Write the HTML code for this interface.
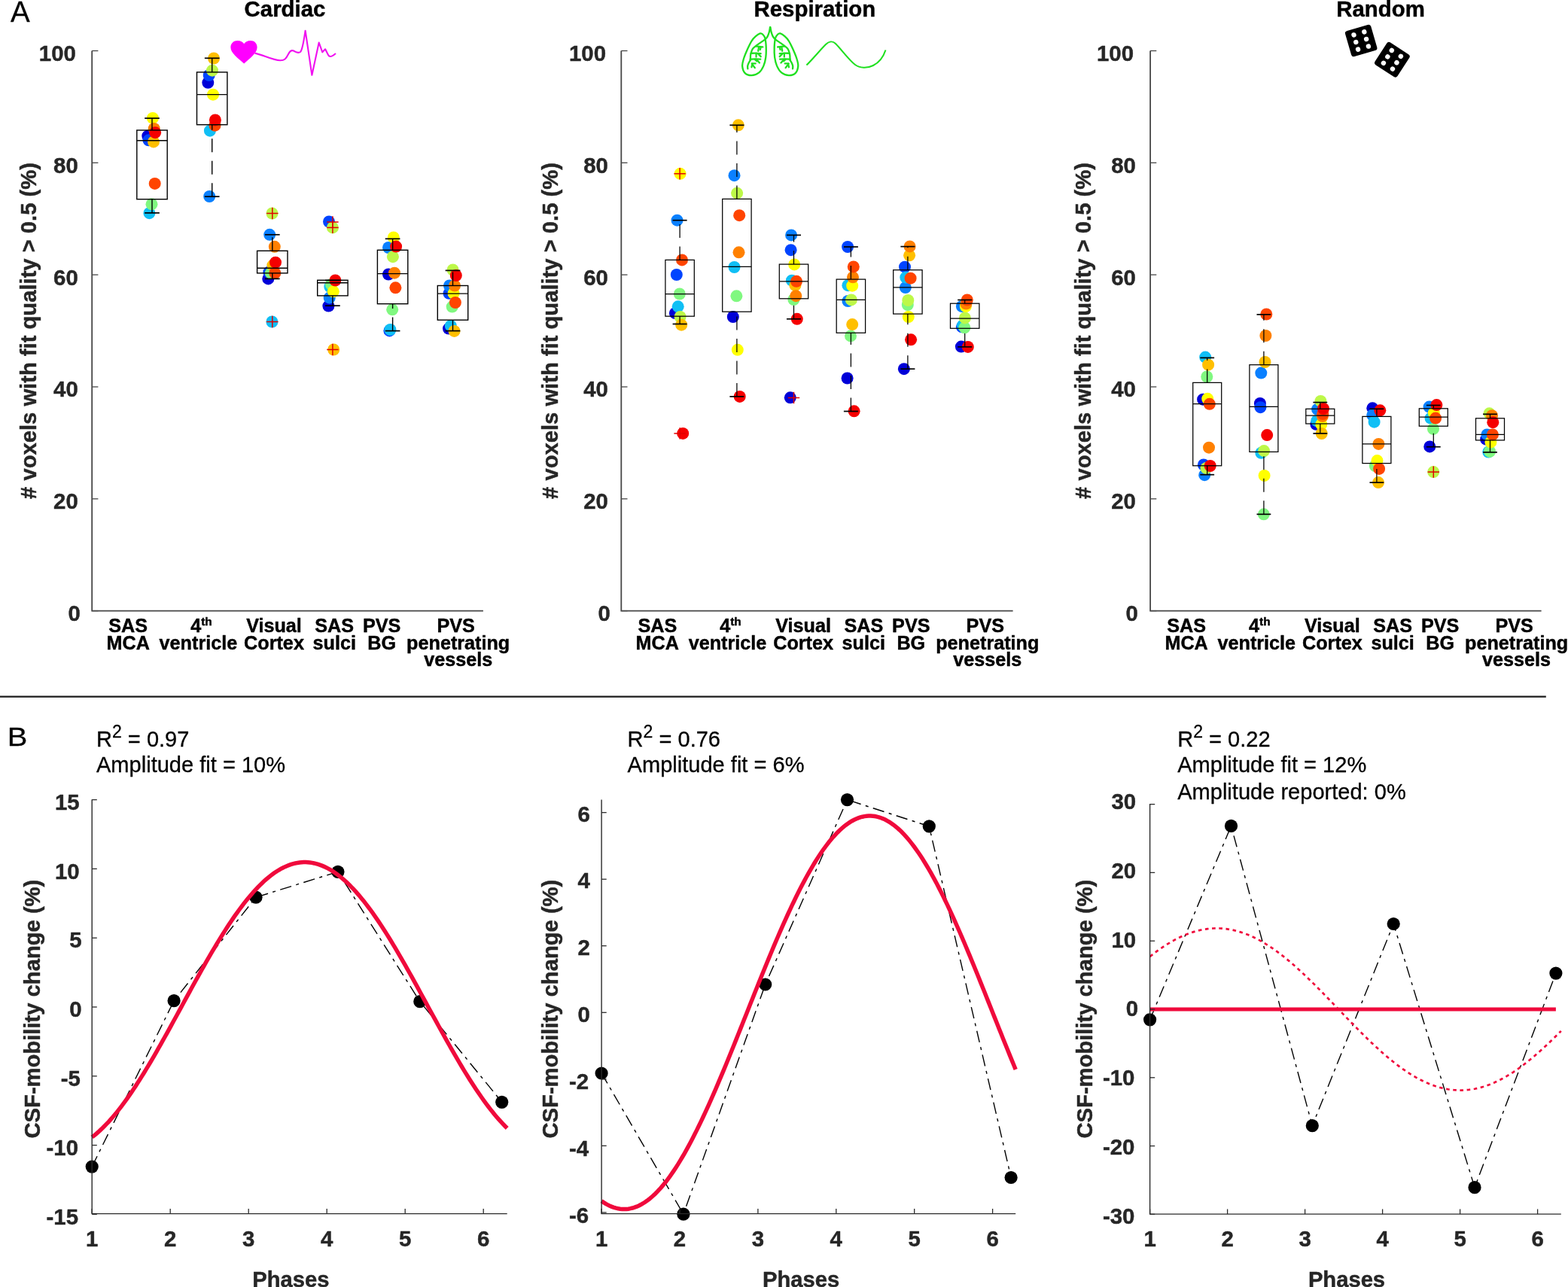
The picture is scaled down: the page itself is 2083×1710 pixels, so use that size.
<!DOCTYPE html>
<html><head><meta charset="utf-8"><title>Figure</title>
<style>html,body{margin:0;padding:0;background:#fff;} svg{display:block;}</style>
</head><body>
<svg width="2083" height="1710" viewBox="0 0 2083 1710">
<rect width="2083" height="1710" fill="#fff"/>
<text stroke="#000" x="13.9" y="28.8" font-family="Liberation Sans, Arial, sans-serif" stroke-width="0.3" stroke-linejoin="round" font-size="38.5" fill="#000">A</text>
<text stroke="#000" transform="translate(9.8,990.7) scale(1.12,1)" font-family="Liberation Sans, Arial, sans-serif" stroke-width="0.3" stroke-linejoin="round" font-size="35.6" fill="#000">B</text>
<circle cx="196.3" cy="180.7" r="8.0" fill="#0000d8"/>
<circle cx="197.4" cy="186.3" r="8.0" fill="#0044ff"/>
<circle cx="198.4" cy="283.2" r="8.0" fill="#10bff5"/>
<circle cx="201.5" cy="271.3" r="8.0" fill="#80f880"/>
<circle cx="202.9" cy="156.9" r="8.0" fill="#ffff00"/>
<circle cx="204.0" cy="188.4" r="8.0" fill="#ffbf00"/>
<circle cx="204.7" cy="170.9" r="8.0" fill="#ff8000"/>
<circle cx="205.7" cy="243.9" r="8.0" fill="#ff4400"/>
<circle cx="206.1" cy="176.2" r="8.0" fill="#f50000"/>
<circle cx="276.3" cy="109.8" r="8.0" fill="#0000d8"/>
<circle cx="277.7" cy="100.0" r="8.0" fill="#0044ff"/>
<circle cx="278.2" cy="261.0" r="8.0" fill="#0a80ff"/>
<circle cx="278.9" cy="173.7" r="8.0" fill="#10bff5"/>
<circle cx="282.0" cy="93.7" r="8.0" fill="#bdf848"/>
<circle cx="283.0" cy="125.7" r="8.0" fill="#ffff00"/>
<circle cx="284.0" cy="77.5" r="8.0" fill="#ffbf00"/>
<circle cx="285.5" cy="166.7" r="8.0" fill="#ff4400"/>
<circle cx="285.9" cy="159.4" r="8.0" fill="#f50000"/>
<circle cx="356.3" cy="370.4" r="8.0" fill="#0000d8"/>
<circle cx="357.3" cy="361.6" r="8.0" fill="#0044ff"/>
<circle cx="358.2" cy="311.8" r="8.0" fill="#0a80ff"/>
<circle cx="361.4" cy="427.5" r="8.0" fill="#10bff5"/>
<circle cx="359.9" cy="362.9" r="8.0" fill="#80f880"/>
<circle cx="361.5" cy="283.5" r="8.0" fill="#bdf848"/>
<circle cx="362.4" cy="352.6" r="8.0" fill="#ffbf00"/>
<circle cx="364.8" cy="327.8" r="8.0" fill="#ff8000"/>
<circle cx="365.3" cy="362.9" r="8.0" fill="#ff4400"/>
<circle cx="366.0" cy="348.7" r="8.0" fill="#f50000"/>
<circle cx="436.4" cy="406.6" r="8.0" fill="#0000d8"/>
<circle cx="437.0" cy="294.5" r="8.0" fill="#0044ff"/>
<circle cx="437.7" cy="395.7" r="8.0" fill="#0a80ff"/>
<circle cx="438.3" cy="381.0" r="8.0" fill="#10bff5"/>
<circle cx="440.0" cy="378.0" r="8.0" fill="#80f880"/>
<circle cx="441.9" cy="302.4" r="8.0" fill="#bdf848"/>
<circle cx="442.8" cy="387.3" r="8.0" fill="#ffff00"/>
<circle cx="443.2" cy="464.5" r="8.0" fill="#ffbf00"/>
<circle cx="445.4" cy="372.5" r="8.0" fill="#f50000"/>
<circle cx="516.0" cy="364.5" r="8.0" fill="#0000d8"/>
<circle cx="517.4" cy="439.4" r="8.0" fill="#0044ff"/>
<circle cx="516.0" cy="329.0" r="8.0" fill="#0a80ff"/>
<circle cx="518.4" cy="438.0" r="8.0" fill="#10bff5"/>
<circle cx="521.2" cy="411.3" r="8.0" fill="#80f880"/>
<circle cx="521.9" cy="341.2" r="8.0" fill="#bdf848"/>
<circle cx="522.8" cy="315.4" r="8.0" fill="#ffff00"/>
<circle cx="524.0" cy="362.7" r="8.0" fill="#ff8000"/>
<circle cx="525.4" cy="382.3" r="8.0" fill="#ff4400"/>
<circle cx="526.1" cy="327.6" r="8.0" fill="#f50000"/>
<circle cx="596.0" cy="436.6" r="8.0" fill="#0000d8"/>
<circle cx="596.5" cy="389.8" r="8.0" fill="#0044ff"/>
<circle cx="597.0" cy="379.5" r="8.0" fill="#0a80ff"/>
<circle cx="598.8" cy="432.9" r="8.0" fill="#10bff5"/>
<circle cx="600.7" cy="407.6" r="8.0" fill="#80f880"/>
<circle cx="601.6" cy="358.5" r="8.0" fill="#bdf848"/>
<circle cx="602.6" cy="389.8" r="8.0" fill="#ffff00"/>
<circle cx="603.5" cy="439.9" r="8.0" fill="#ffbf00"/>
<circle cx="604.0" cy="379.5" r="8.0" fill="#ff8000"/>
<circle cx="604.9" cy="402.0" r="8.0" fill="#ff4400"/>
<circle cx="605.8" cy="366.0" r="8.0" fill="#f50000"/>
<g stroke="#000" stroke-width="1.4" fill="none">
<rect x="181.8" y="173.0" width="40.4" height="91.7"/>
<line x1="181.8" y1="186.8" x2="222.2" y2="186.8"/>
<line x1="202.0" y1="173.0" x2="202.0" y2="157.1" stroke-dasharray="18 11.5"/>
<line x1="202.0" y1="282.9" x2="202.0" y2="264.7" stroke-dasharray="18 11.5"/>
<line x1="192.15" y1="157.1" x2="211.85" y2="157.1" stroke-width="1.7"/>
<line x1="192.15" y1="282.9" x2="211.85" y2="282.9" stroke-width="1.7"/>
</g>
<g stroke="#000" stroke-width="1.4" fill="none">
<rect x="261.5" y="95.9" width="40.4" height="69.8"/>
<line x1="261.5" y1="125.6" x2="301.9" y2="125.6"/>
<line x1="281.7" y1="95.9" x2="281.7" y2="77.3" stroke-dasharray="18 11.5"/>
<line x1="281.7" y1="261.2" x2="281.7" y2="165.7" stroke-dasharray="18 11.5"/>
<line x1="271.84999999999997" y1="77.3" x2="291.55" y2="77.3" stroke-width="1.7"/>
<line x1="271.84999999999997" y1="261.2" x2="291.55" y2="261.2" stroke-width="1.7"/>
</g>
<g stroke="#000" stroke-width="1.4" fill="none">
<rect x="341.6" y="333.3" width="40.4" height="29.6"/>
<line x1="341.6" y1="356.2" x2="382.0" y2="356.2"/>
<line x1="361.8" y1="333.3" x2="361.8" y2="311.8" stroke-dasharray="18 11.5"/>
<line x1="361.8" y1="370.4" x2="361.8" y2="362.9" stroke-dasharray="18 11.5"/>
<line x1="351.95" y1="311.8" x2="371.65000000000003" y2="311.8" stroke-width="1.7"/>
<line x1="351.95" y1="370.4" x2="371.65000000000003" y2="370.4" stroke-width="1.7"/>
</g>
<g stroke="#e00000" stroke-width="1.5"><line x1="354.1" y1="283.5" x2="369.5" y2="283.5"/><line x1="361.8" y1="275.8" x2="361.8" y2="291.2"/></g>
<g stroke="#e00000" stroke-width="1.5"><line x1="354.1" y1="427.5" x2="369.5" y2="427.5"/><line x1="361.8" y1="419.8" x2="361.8" y2="435.2"/></g>
<g stroke="#000" stroke-width="1.4" fill="none">
<rect x="421.7" y="372.3" width="40.4" height="20.6"/>
<line x1="421.7" y1="375.8" x2="462.1" y2="375.8"/>
<line x1="441.9" y1="372.3" x2="441.9" y2="372.5" stroke-dasharray="18 11.5"/>
<line x1="441.9" y1="406.2" x2="441.9" y2="392.9" stroke-dasharray="18 11.5"/>
<line x1="432.04999999999995" y1="372.5" x2="451.75" y2="372.5" stroke-width="1.7"/>
<line x1="432.04999999999995" y1="406.2" x2="451.75" y2="406.2" stroke-width="1.7"/>
</g>
<g stroke="#e00000" stroke-width="1.5"><line x1="434.2" y1="295.0" x2="449.59999999999997" y2="295.0"/><line x1="441.9" y1="287.3" x2="441.9" y2="302.7"/></g>
<g stroke="#e00000" stroke-width="1.5"><line x1="434.2" y1="302.4" x2="449.59999999999997" y2="302.4"/><line x1="441.9" y1="294.7" x2="441.9" y2="310.09999999999997"/></g>
<g stroke="#e00000" stroke-width="1.5"><line x1="434.2" y1="464.5" x2="449.59999999999997" y2="464.5"/><line x1="441.9" y1="456.8" x2="441.9" y2="472.2"/></g>
<g stroke="#000" stroke-width="1.4" fill="none">
<rect x="501.4" y="332.3" width="40.4" height="71.4"/>
<line x1="501.4" y1="363.6" x2="541.8" y2="363.6"/>
<line x1="521.6" y1="332.3" x2="521.6" y2="317.3" stroke-dasharray="18 11.5"/>
<line x1="521.6" y1="439.6" x2="521.6" y2="403.7" stroke-dasharray="18 11.5"/>
<line x1="511.75" y1="317.3" x2="531.45" y2="317.3" stroke-width="1.7"/>
<line x1="511.75" y1="439.6" x2="531.45" y2="439.6" stroke-width="1.7"/>
</g>
<g stroke="#000" stroke-width="1.4" fill="none">
<rect x="581.3" y="379.5" width="40.4" height="45.7"/>
<line x1="581.3" y1="390.1" x2="621.7" y2="390.1"/>
<line x1="601.5" y1="379.5" x2="601.5" y2="359.4" stroke-dasharray="18 11.5"/>
<line x1="601.5" y1="439.6" x2="601.5" y2="425.2" stroke-dasharray="18 11.5"/>
<line x1="591.65" y1="359.4" x2="611.35" y2="359.4" stroke-width="1.7"/>
<line x1="591.65" y1="439.6" x2="611.35" y2="439.6" stroke-width="1.7"/>
</g>
<g stroke="#474747" stroke-width="1.8" fill="none"><path d="M122.2,67.5 V811.6 H641.9000000000001"/></g>
<line x1="122.2" y1="811.6" x2="130.4" y2="811.6" stroke="#474747" stroke-width="1.3"/>
<text stroke="#262626" x="106.8" y="825.0" font-family="Liberation Sans, Arial, sans-serif" font-weight="bold" stroke-width="0.45" stroke-linejoin="round" font-size="29.4" fill="#262626" text-anchor="end">0</text>
<line x1="122.2" y1="662.8" x2="130.4" y2="662.8" stroke="#474747" stroke-width="1.3"/>
<text stroke="#262626" x="103.8" y="676.2" font-family="Liberation Sans, Arial, sans-serif" font-weight="bold" stroke-width="0.45" stroke-linejoin="round" font-size="29.4" fill="#262626" text-anchor="end">20</text>
<line x1="122.2" y1="514.0" x2="130.4" y2="514.0" stroke="#474747" stroke-width="1.3"/>
<text stroke="#262626" x="103.8" y="527.4" font-family="Liberation Sans, Arial, sans-serif" font-weight="bold" stroke-width="0.45" stroke-linejoin="round" font-size="29.4" fill="#262626" text-anchor="end">40</text>
<line x1="122.2" y1="365.1" x2="130.4" y2="365.1" stroke="#474747" stroke-width="1.3"/>
<text stroke="#262626" x="103.8" y="378.5" font-family="Liberation Sans, Arial, sans-serif" font-weight="bold" stroke-width="0.45" stroke-linejoin="round" font-size="29.4" fill="#262626" text-anchor="end">60</text>
<line x1="122.2" y1="216.3" x2="130.4" y2="216.3" stroke="#474747" stroke-width="1.3"/>
<text stroke="#262626" x="103.8" y="229.7" font-family="Liberation Sans, Arial, sans-serif" font-weight="bold" stroke-width="0.45" stroke-linejoin="round" font-size="29.4" fill="#262626" text-anchor="end">80</text>
<line x1="122.2" y1="67.5" x2="130.4" y2="67.5" stroke="#474747" stroke-width="1.3"/>
<text stroke="#262626" x="100.9" y="80.9" font-family="Liberation Sans, Arial, sans-serif" font-weight="bold" stroke-width="0.45" stroke-linejoin="round" font-size="29.4" fill="#262626" text-anchor="end">100</text>
<text stroke="#262626" transform="translate(47.8,439.5) rotate(-90)" font-family="Liberation Sans, Arial, sans-serif" font-weight="bold" stroke-width="0.45" stroke-linejoin="round" font-size="29.2" fill="#262626" text-anchor="middle"># voxels with fit quality &gt; 0.5 (%)</text>
<text stroke="#000" x="378.5" y="22.2" font-family="Liberation Sans, Arial, sans-serif" font-weight="bold" stroke-width="0.45" stroke-linejoin="round" font-size="29.4" fill="#000" text-anchor="middle">Cardiac</text>
<text stroke="#000" x="170.2" y="839.7" font-family="Liberation Sans, Arial, sans-serif" font-weight="bold" stroke-width="0.45" stroke-linejoin="round" font-size="25.2" fill="#000" text-anchor="middle">SAS</text>
<text stroke="#000" x="170.2" y="862.5" font-family="Liberation Sans, Arial, sans-serif" font-weight="bold" stroke-width="0.45" stroke-linejoin="round" font-size="25.2" fill="#000" text-anchor="middle">MCA</text>
<text stroke="#000" x="267.4" y="839.7" font-family="Liberation Sans, Arial, sans-serif" font-weight="bold" stroke-width="0.45" stroke-linejoin="round" font-size="25.2" fill="#000" text-anchor="middle">4<tspan font-size="15.4" dy="-8.8">th</tspan></text>
<text stroke="#000" x="263.4" y="862.5" font-family="Liberation Sans, Arial, sans-serif" font-weight="bold" stroke-width="0.45" stroke-linejoin="round" font-size="25.2" fill="#000" text-anchor="middle">ventricle</text>
<text stroke="#000" x="364.0" y="839.7" font-family="Liberation Sans, Arial, sans-serif" font-weight="bold" stroke-width="0.45" stroke-linejoin="round" font-size="25.2" fill="#000" text-anchor="middle">Visual</text>
<text stroke="#000" x="364.0" y="862.5" font-family="Liberation Sans, Arial, sans-serif" font-weight="bold" stroke-width="0.45" stroke-linejoin="round" font-size="25.2" fill="#000" text-anchor="middle">Cortex</text>
<text stroke="#000" x="444.2" y="839.7" font-family="Liberation Sans, Arial, sans-serif" font-weight="bold" stroke-width="0.45" stroke-linejoin="round" font-size="25.2" fill="#000" text-anchor="middle">SAS</text>
<text stroke="#000" x="444.2" y="862.5" font-family="Liberation Sans, Arial, sans-serif" font-weight="bold" stroke-width="0.45" stroke-linejoin="round" font-size="25.2" fill="#000" text-anchor="middle">sulci</text>
<text stroke="#000" x="507.2" y="839.7" font-family="Liberation Sans, Arial, sans-serif" font-weight="bold" stroke-width="0.45" stroke-linejoin="round" font-size="25.2" fill="#000" text-anchor="middle">PVS</text>
<text stroke="#000" x="507.2" y="862.5" font-family="Liberation Sans, Arial, sans-serif" font-weight="bold" stroke-width="0.45" stroke-linejoin="round" font-size="25.2" fill="#000" text-anchor="middle">BG</text>
<text stroke="#000" x="605.7" y="839.7" font-family="Liberation Sans, Arial, sans-serif" font-weight="bold" stroke-width="0.45" stroke-linejoin="round" font-size="25.2" fill="#000" text-anchor="middle">PVS</text>
<text stroke="#000" x="608.7" y="862.5" font-family="Liberation Sans, Arial, sans-serif" font-weight="bold" stroke-width="0.45" stroke-linejoin="round" font-size="25.2" fill="#000" text-anchor="middle">penetrating</text>
<text stroke="#000" x="608.7" y="884.8" font-family="Liberation Sans, Arial, sans-serif" font-weight="bold" stroke-width="0.45" stroke-linejoin="round" font-size="25.2" fill="#000" text-anchor="middle">vessels</text>
<circle cx="896.9" cy="416.1" r="8.0" fill="#0000d8"/>
<circle cx="898.8" cy="365.0" r="8.0" fill="#0044ff"/>
<circle cx="899.5" cy="292.7" r="8.0" fill="#0a80ff"/>
<circle cx="900.7" cy="407.3" r="8.0" fill="#10bff5"/>
<circle cx="902.8" cy="390.5" r="8.0" fill="#80f880"/>
<circle cx="903.6" cy="421.0" r="8.0" fill="#bdf848"/>
<circle cx="903.6" cy="230.8" r="8.0" fill="#ffff00"/>
<circle cx="905.2" cy="431.7" r="8.0" fill="#ffbf00"/>
<circle cx="906.0" cy="345.4" r="8.0" fill="#ff4400"/>
<circle cx="907.2" cy="575.9" r="8.0" fill="#f50000"/>
<circle cx="973.8" cy="421.0" r="8.0" fill="#0000d8"/>
<circle cx="975.5" cy="233.2" r="8.0" fill="#0a80ff"/>
<circle cx="975.5" cy="355.0" r="8.0" fill="#10bff5"/>
<circle cx="978.4" cy="393.3" r="8.0" fill="#80f880"/>
<circle cx="979.1" cy="256.7" r="8.0" fill="#bdf848"/>
<circle cx="979.8" cy="464.8" r="8.0" fill="#ffff00"/>
<circle cx="980.8" cy="166.3" r="8.0" fill="#ffbf00"/>
<circle cx="981.5" cy="335.3" r="8.0" fill="#ff8000"/>
<circle cx="982.2" cy="286.2" r="8.0" fill="#ff4400"/>
<circle cx="982.7" cy="526.9" r="8.0" fill="#f50000"/>
<circle cx="1049.8" cy="528.3" r="8.0" fill="#0000d8"/>
<circle cx="1050.6" cy="332.2" r="8.0" fill="#0044ff"/>
<circle cx="1051.1" cy="312.4" r="8.0" fill="#0a80ff"/>
<circle cx="1051.9" cy="372.7" r="8.0" fill="#10bff5"/>
<circle cx="1054.4" cy="398.0" r="8.0" fill="#80f880"/>
<circle cx="1055.2" cy="351.4" r="8.0" fill="#ffff00"/>
<circle cx="1056.4" cy="379.2" r="8.0" fill="#ffbf00"/>
<circle cx="1057.3" cy="393.2" r="8.0" fill="#ff8000"/>
<circle cx="1058.0" cy="373.8" r="8.0" fill="#ff4400"/>
<circle cx="1058.8" cy="423.8" r="8.0" fill="#f50000"/>
<circle cx="1125.6" cy="502.5" r="8.0" fill="#0000d8"/>
<circle cx="1126.1" cy="328.0" r="8.0" fill="#0044ff"/>
<circle cx="1126.4" cy="400.0" r="8.0" fill="#0a80ff"/>
<circle cx="1126.4" cy="379.2" r="8.0" fill="#10bff5"/>
<circle cx="1130.0" cy="446.4" r="8.0" fill="#80f880"/>
<circle cx="1130.9" cy="398.4" r="8.0" fill="#bdf848"/>
<circle cx="1132.2" cy="379.7" r="8.0" fill="#ffff00"/>
<circle cx="1132.2" cy="431.1" r="8.0" fill="#ffbf00"/>
<circle cx="1133.0" cy="368.3" r="8.0" fill="#ff8000"/>
<circle cx="1133.8" cy="354.4" r="8.0" fill="#ff4400"/>
<circle cx="1134.6" cy="546.3" r="8.0" fill="#f50000"/>
<circle cx="1200.9" cy="490.2" r="8.0" fill="#0000d8"/>
<circle cx="1202.0" cy="354.7" r="8.0" fill="#0044ff"/>
<circle cx="1202.8" cy="382.1" r="8.0" fill="#0a80ff"/>
<circle cx="1203.3" cy="368.7" r="8.0" fill="#10bff5"/>
<circle cx="1205.8" cy="405.0" r="8.0" fill="#80f880"/>
<circle cx="1206.3" cy="399.0" r="8.0" fill="#bdf848"/>
<circle cx="1206.8" cy="421.0" r="8.0" fill="#ffff00"/>
<circle cx="1208.1" cy="339.3" r="8.0" fill="#ffbf00"/>
<circle cx="1208.6" cy="327.4" r="8.0" fill="#ff8000"/>
<circle cx="1209.6" cy="369.7" r="8.0" fill="#ff4400"/>
<circle cx="1210.1" cy="451.3" r="8.0" fill="#f50000"/>
<circle cx="1276.9" cy="460.6" r="8.0" fill="#0000d8"/>
<circle cx="1277.9" cy="434.3" r="8.0" fill="#0044ff"/>
<circle cx="1277.9" cy="407.0" r="8.0" fill="#0a80ff"/>
<circle cx="1278.9" cy="432.3" r="8.0" fill="#10bff5"/>
<circle cx="1281.4" cy="435.3" r="8.0" fill="#80f880"/>
<circle cx="1281.9" cy="422.4" r="8.0" fill="#bdf848"/>
<circle cx="1282.9" cy="407.0" r="8.0" fill="#ffff00"/>
<circle cx="1283.4" cy="403.5" r="8.0" fill="#ff8000"/>
<circle cx="1284.8" cy="398.5" r="8.0" fill="#ff4400"/>
<circle cx="1285.8" cy="460.9" r="8.0" fill="#f50000"/>
<g stroke="#000" stroke-width="1.25" fill="none">
<rect x="883.9" y="345.4" width="38.4" height="74.8"/>
<line x1="883.9" y1="390.5" x2="922.3" y2="390.5"/>
<line x1="903.1" y1="345.4" x2="903.1" y2="292.7" stroke-dasharray="18 11.5"/>
<line x1="903.1" y1="430.5" x2="903.1" y2="420.2" stroke-dasharray="18 11.5"/>
<line x1="893.6" y1="292.7" x2="912.6" y2="292.7" stroke-width="1.7"/>
<line x1="893.6" y1="430.5" x2="912.6" y2="430.5" stroke-width="1.7"/>
</g>
<g stroke="#e00000" stroke-width="1.5"><line x1="895.4" y1="230.8" x2="910.8000000000001" y2="230.8"/><line x1="903.1" y1="223.10000000000002" x2="903.1" y2="238.5"/></g>
<g stroke="#e00000" stroke-width="1.5"><line x1="895.4" y1="575.9" x2="910.8000000000001" y2="575.9"/><line x1="903.1" y1="568.1999999999999" x2="903.1" y2="583.6"/></g>
<g stroke="#000" stroke-width="1.25" fill="none">
<rect x="959.7" y="264.4" width="38.4" height="149.8"/>
<line x1="959.7" y1="354.3" x2="998.1" y2="354.3"/>
<line x1="978.9" y1="264.4" x2="978.9" y2="166.3" stroke-dasharray="18 11.5"/>
<line x1="978.9" y1="526.9" x2="978.9" y2="414.2" stroke-dasharray="18 11.5"/>
<line x1="969.4" y1="166.3" x2="988.4" y2="166.3" stroke-width="1.7"/>
<line x1="969.4" y1="526.9" x2="988.4" y2="526.9" stroke-width="1.7"/>
</g>
<g stroke="#000" stroke-width="1.25" fill="none">
<rect x="1035.3" y="351.1" width="38.4" height="45.7"/>
<line x1="1035.3" y1="373.8" x2="1073.7" y2="373.8"/>
<line x1="1054.5" y1="351.1" x2="1054.5" y2="312.4" stroke-dasharray="18 11.5"/>
<line x1="1054.5" y1="423.8" x2="1054.5" y2="396.8" stroke-dasharray="18 11.5"/>
<line x1="1045.0" y1="312.4" x2="1064.0" y2="312.4" stroke-width="1.7"/>
<line x1="1045.0" y1="423.8" x2="1064.0" y2="423.8" stroke-width="1.7"/>
</g>
<g stroke="#e00000" stroke-width="1.5"><line x1="1046.8" y1="528.5" x2="1062.2" y2="528.5"/><line x1="1054.5" y1="520.8" x2="1054.5" y2="536.2"/></g>
<g stroke="#000" stroke-width="1.25" fill="none">
<rect x="1111.2" y="371.1" width="38.4" height="71.2"/>
<line x1="1111.2" y1="398.4" x2="1149.6" y2="398.4"/>
<line x1="1130.4" y1="371.1" x2="1130.4" y2="328.0" stroke-dasharray="18 11.5"/>
<line x1="1130.4" y1="546.5" x2="1130.4" y2="442.3" stroke-dasharray="18 11.5"/>
<line x1="1120.9" y1="328.0" x2="1139.9" y2="328.0" stroke-width="1.7"/>
<line x1="1120.9" y1="546.5" x2="1139.9" y2="546.5" stroke-width="1.7"/>
</g>
<g stroke="#000" stroke-width="1.25" fill="none">
<rect x="1186.7" y="358.7" width="38.4" height="58.4"/>
<line x1="1186.7" y1="381.8" x2="1225.1" y2="381.8"/>
<line x1="1205.9" y1="358.7" x2="1205.9" y2="327.6" stroke-dasharray="18 11.5"/>
<line x1="1205.9" y1="490.2" x2="1205.9" y2="417.1" stroke-dasharray="18 11.5"/>
<line x1="1196.4" y1="327.6" x2="1215.4" y2="327.6" stroke-width="1.7"/>
<line x1="1196.4" y1="490.2" x2="1215.4" y2="490.2" stroke-width="1.7"/>
</g>
<g stroke="#000" stroke-width="1.25" fill="none">
<rect x="1262.5" y="403.2" width="38.4" height="33.1"/>
<line x1="1262.5" y1="423.1" x2="1300.9" y2="423.1"/>
<line x1="1281.7" y1="403.2" x2="1281.7" y2="398.5" stroke-dasharray="18 11.5"/>
<line x1="1281.7" y1="460.9" x2="1281.7" y2="436.3" stroke-dasharray="18 11.5"/>
<line x1="1272.2" y1="398.5" x2="1291.2" y2="398.5" stroke-width="1.7"/>
<line x1="1272.2" y1="460.9" x2="1291.2" y2="460.9" stroke-width="1.7"/>
</g>
<g stroke="#474747" stroke-width="1.8" fill="none"><path d="M825.3,67.5 V811.6 H1345.6"/></g>
<line x1="825.3" y1="811.6" x2="833.5" y2="811.6" stroke="#474747" stroke-width="1.3"/>
<text stroke="#262626" x="810.9" y="825.0" font-family="Liberation Sans, Arial, sans-serif" font-weight="bold" stroke-width="0.45" stroke-linejoin="round" font-size="29.4" fill="#262626" text-anchor="end">0</text>
<line x1="825.3" y1="662.8" x2="833.5" y2="662.8" stroke="#474747" stroke-width="1.3"/>
<text stroke="#262626" x="807.9" y="676.2" font-family="Liberation Sans, Arial, sans-serif" font-weight="bold" stroke-width="0.45" stroke-linejoin="round" font-size="29.4" fill="#262626" text-anchor="end">20</text>
<line x1="825.3" y1="514.0" x2="833.5" y2="514.0" stroke="#474747" stroke-width="1.3"/>
<text stroke="#262626" x="807.9" y="527.4" font-family="Liberation Sans, Arial, sans-serif" font-weight="bold" stroke-width="0.45" stroke-linejoin="round" font-size="29.4" fill="#262626" text-anchor="end">40</text>
<line x1="825.3" y1="365.1" x2="833.5" y2="365.1" stroke="#474747" stroke-width="1.3"/>
<text stroke="#262626" x="807.9" y="378.5" font-family="Liberation Sans, Arial, sans-serif" font-weight="bold" stroke-width="0.45" stroke-linejoin="round" font-size="29.4" fill="#262626" text-anchor="end">60</text>
<line x1="825.3" y1="216.3" x2="833.5" y2="216.3" stroke="#474747" stroke-width="1.3"/>
<text stroke="#262626" x="807.9" y="229.7" font-family="Liberation Sans, Arial, sans-serif" font-weight="bold" stroke-width="0.45" stroke-linejoin="round" font-size="29.4" fill="#262626" text-anchor="end">80</text>
<line x1="825.3" y1="67.5" x2="833.5" y2="67.5" stroke="#474747" stroke-width="1.3"/>
<text stroke="#262626" x="805.0" y="80.9" font-family="Liberation Sans, Arial, sans-serif" font-weight="bold" stroke-width="0.45" stroke-linejoin="round" font-size="29.4" fill="#262626" text-anchor="end">100</text>
<text stroke="#262626" transform="translate(741.3,439.5) rotate(-90)" font-family="Liberation Sans, Arial, sans-serif" font-weight="bold" stroke-width="0.45" stroke-linejoin="round" font-size="29.2" fill="#262626" text-anchor="middle"># voxels with fit quality &gt; 0.5 (%)</text>
<text stroke="#000" x="1082.4" y="22.2" font-family="Liberation Sans, Arial, sans-serif" font-weight="bold" stroke-width="0.45" stroke-linejoin="round" font-size="29.4" fill="#000" text-anchor="middle">Respiration</text>
<text stroke="#000" x="873.3" y="839.7" font-family="Liberation Sans, Arial, sans-serif" font-weight="bold" stroke-width="0.45" stroke-linejoin="round" font-size="25.2" fill="#000" text-anchor="middle">SAS</text>
<text stroke="#000" x="873.3" y="862.5" font-family="Liberation Sans, Arial, sans-serif" font-weight="bold" stroke-width="0.45" stroke-linejoin="round" font-size="25.2" fill="#000" text-anchor="middle">MCA</text>
<text stroke="#000" x="970.5" y="839.7" font-family="Liberation Sans, Arial, sans-serif" font-weight="bold" stroke-width="0.45" stroke-linejoin="round" font-size="25.2" fill="#000" text-anchor="middle">4<tspan font-size="15.4" dy="-8.8">th</tspan></text>
<text stroke="#000" x="966.5" y="862.5" font-family="Liberation Sans, Arial, sans-serif" font-weight="bold" stroke-width="0.45" stroke-linejoin="round" font-size="25.2" fill="#000" text-anchor="middle">ventricle</text>
<text stroke="#000" x="1067.1" y="839.7" font-family="Liberation Sans, Arial, sans-serif" font-weight="bold" stroke-width="0.45" stroke-linejoin="round" font-size="25.2" fill="#000" text-anchor="middle">Visual</text>
<text stroke="#000" x="1067.1" y="862.5" font-family="Liberation Sans, Arial, sans-serif" font-weight="bold" stroke-width="0.45" stroke-linejoin="round" font-size="25.2" fill="#000" text-anchor="middle">Cortex</text>
<text stroke="#000" x="1147.3" y="839.7" font-family="Liberation Sans, Arial, sans-serif" font-weight="bold" stroke-width="0.45" stroke-linejoin="round" font-size="25.2" fill="#000" text-anchor="middle">SAS</text>
<text stroke="#000" x="1147.3" y="862.5" font-family="Liberation Sans, Arial, sans-serif" font-weight="bold" stroke-width="0.45" stroke-linejoin="round" font-size="25.2" fill="#000" text-anchor="middle">sulci</text>
<text stroke="#000" x="1210.3" y="839.7" font-family="Liberation Sans, Arial, sans-serif" font-weight="bold" stroke-width="0.45" stroke-linejoin="round" font-size="25.2" fill="#000" text-anchor="middle">PVS</text>
<text stroke="#000" x="1210.3" y="862.5" font-family="Liberation Sans, Arial, sans-serif" font-weight="bold" stroke-width="0.45" stroke-linejoin="round" font-size="25.2" fill="#000" text-anchor="middle">BG</text>
<text stroke="#000" x="1308.8" y="839.7" font-family="Liberation Sans, Arial, sans-serif" font-weight="bold" stroke-width="0.45" stroke-linejoin="round" font-size="25.2" fill="#000" text-anchor="middle">PVS</text>
<text stroke="#000" x="1311.8" y="862.5" font-family="Liberation Sans, Arial, sans-serif" font-weight="bold" stroke-width="0.45" stroke-linejoin="round" font-size="25.2" fill="#000" text-anchor="middle">penetrating</text>
<text stroke="#000" x="1311.8" y="884.8" font-family="Liberation Sans, Arial, sans-serif" font-weight="bold" stroke-width="0.45" stroke-linejoin="round" font-size="25.2" fill="#000" text-anchor="middle">vessels</text>
<circle cx="1598.1" cy="530.7" r="8.0" fill="#0000d8"/>
<circle cx="1598.9" cy="617.5" r="8.0" fill="#0044ff"/>
<circle cx="1600.2" cy="631.2" r="8.0" fill="#0a80ff"/>
<circle cx="1601.2" cy="474.6" r="8.0" fill="#10bff5"/>
<circle cx="1603.3" cy="500.5" r="8.0" fill="#80f880"/>
<circle cx="1602.5" cy="622.0" r="8.0" fill="#bdf848"/>
<circle cx="1604.2" cy="529.8" r="8.0" fill="#ffff00"/>
<circle cx="1605.1" cy="484.7" r="8.0" fill="#ffbf00"/>
<circle cx="1606.0" cy="594.7" r="8.0" fill="#ff8000"/>
<circle cx="1606.8" cy="536.8" r="8.0" fill="#ff4400"/>
<circle cx="1607.7" cy="619.0" r="8.0" fill="#f50000"/>
<circle cx="1673.9" cy="536.0" r="8.0" fill="#0000d8"/>
<circle cx="1674.4" cy="541.2" r="8.0" fill="#0044ff"/>
<circle cx="1675.3" cy="495.6" r="8.0" fill="#0a80ff"/>
<circle cx="1675.3" cy="601.8" r="8.0" fill="#10bff5"/>
<circle cx="1678.8" cy="683.3" r="8.0" fill="#80f880"/>
<circle cx="1679.1" cy="599.1" r="8.0" fill="#bdf848"/>
<circle cx="1679.6" cy="631.9" r="8.0" fill="#ffff00"/>
<circle cx="1680.5" cy="481.0" r="8.0" fill="#ffbf00"/>
<circle cx="1681.4" cy="446.0" r="8.0" fill="#ff8000"/>
<circle cx="1682.3" cy="417.5" r="8.0" fill="#ff4400"/>
<circle cx="1683.2" cy="578.1" r="8.0" fill="#f50000"/>
<circle cx="1748.4" cy="563.8" r="8.0" fill="#0000d8"/>
<circle cx="1750.0" cy="543.8" r="8.0" fill="#0a80ff"/>
<circle cx="1749.2" cy="559.2" r="8.0" fill="#10bff5"/>
<circle cx="1754.4" cy="533.0" r="8.0" fill="#bdf848"/>
<circle cx="1755.3" cy="563.8" r="8.0" fill="#ffff00"/>
<circle cx="1755.7" cy="576.0" r="8.0" fill="#ffbf00"/>
<circle cx="1756.9" cy="553.0" r="8.0" fill="#ff8000"/>
<circle cx="1757.3" cy="550.0" r="8.0" fill="#ff4400"/>
<circle cx="1758.0" cy="543.0" r="8.0" fill="#f50000"/>
<circle cx="1823.3" cy="542.3" r="8.0" fill="#0000d8"/>
<circle cx="1823.3" cy="551.5" r="8.0" fill="#0a80ff"/>
<circle cx="1825.6" cy="560.7" r="8.0" fill="#10bff5"/>
<circle cx="1826.8" cy="619.0" r="8.0" fill="#80f880"/>
<circle cx="1829.5" cy="612.1" r="8.0" fill="#ffff00"/>
<circle cx="1831.0" cy="641.1" r="8.0" fill="#ffbf00"/>
<circle cx="1831.4" cy="589.9" r="8.0" fill="#ff8000"/>
<circle cx="1832.1" cy="622.9" r="8.0" fill="#ff4400"/>
<circle cx="1833.3" cy="545.3" r="8.0" fill="#f50000"/>
<circle cx="1899.3" cy="593.4" r="8.0" fill="#0000d8"/>
<circle cx="1898.6" cy="540.6" r="8.0" fill="#0a80ff"/>
<circle cx="1900.5" cy="555.6" r="8.0" fill="#10bff5"/>
<circle cx="1904.0" cy="569.9" r="8.0" fill="#80f880"/>
<circle cx="1904.2" cy="627.1" r="8.0" fill="#bdf848"/>
<circle cx="1904.9" cy="548.7" r="8.0" fill="#ffff00"/>
<circle cx="1907.1" cy="555.6" r="8.0" fill="#ff4400"/>
<circle cx="1908.4" cy="538.1" r="8.0" fill="#f50000"/>
<circle cx="1974.2" cy="583.7" r="8.0" fill="#0000d8"/>
<circle cx="1975.4" cy="577.4" r="8.0" fill="#0a80ff"/>
<circle cx="1977.3" cy="600.5" r="8.0" fill="#10bff5"/>
<circle cx="1979.1" cy="599.9" r="8.0" fill="#80f880"/>
<circle cx="1978.5" cy="549.3" r="8.0" fill="#bdf848"/>
<circle cx="1980.4" cy="587.4" r="8.0" fill="#ffff00"/>
<circle cx="1982.0" cy="552.2" r="8.0" fill="#ff8000"/>
<circle cx="1982.9" cy="577.4" r="8.0" fill="#ff4400"/>
<circle cx="1983.3" cy="561.2" r="8.0" fill="#f50000"/>
<g stroke="#000" stroke-width="1.25" fill="none">
<rect x="1584.7" y="508.4" width="38.0" height="110.4"/>
<line x1="1584.7" y1="536.5" x2="1622.7" y2="536.5"/>
<line x1="1603.7" y1="508.4" x2="1603.7" y2="475.4" stroke-dasharray="18 11.5"/>
<line x1="1603.7" y1="630.7" x2="1603.7" y2="618.8" stroke-dasharray="18 11.5"/>
<line x1="1594.3" y1="475.4" x2="1613.1000000000001" y2="475.4" stroke-width="1.7"/>
<line x1="1594.3" y1="630.7" x2="1613.1000000000001" y2="630.7" stroke-width="1.7"/>
</g>
<g stroke="#000" stroke-width="1.25" fill="none">
<rect x="1659.9" y="484.7" width="38.0" height="115.7"/>
<line x1="1659.9" y1="540.4" x2="1697.9" y2="540.4"/>
<line x1="1678.9" y1="484.7" x2="1678.9" y2="417.9" stroke-dasharray="18 11.5"/>
<line x1="1678.9" y1="683.3" x2="1678.9" y2="600.4" stroke-dasharray="18 11.5"/>
<line x1="1669.5" y1="417.9" x2="1688.3000000000002" y2="417.9" stroke-width="1.7"/>
<line x1="1669.5" y1="683.3" x2="1688.3000000000002" y2="683.3" stroke-width="1.7"/>
</g>
<g stroke="#000" stroke-width="1.25" fill="none">
<rect x="1734.8" y="543.3" width="38.0" height="19.7"/>
<line x1="1734.8" y1="552.1" x2="1772.8" y2="552.1"/>
<line x1="1753.8" y1="543.3" x2="1753.8" y2="534.6" stroke-dasharray="18 11.5"/>
<line x1="1753.8" y1="575.9" x2="1753.8" y2="563.0" stroke-dasharray="18 11.5"/>
<line x1="1744.3999999999999" y1="534.6" x2="1763.2" y2="534.6" stroke-width="1.7"/>
<line x1="1744.3999999999999" y1="575.9" x2="1763.2" y2="575.9" stroke-width="1.7"/>
</g>
<g stroke="#000" stroke-width="1.25" fill="none">
<rect x="1809.9" y="553.4" width="38.0" height="62.2"/>
<line x1="1809.9" y1="589.9" x2="1847.9" y2="589.9"/>
<line x1="1828.9" y1="553.4" x2="1828.9" y2="543.3" stroke-dasharray="18 11.5"/>
<line x1="1828.9" y1="641.1" x2="1828.9" y2="615.6" stroke-dasharray="18 11.5"/>
<line x1="1819.5" y1="543.3" x2="1838.3000000000002" y2="543.3" stroke-width="1.7"/>
<line x1="1819.5" y1="641.1" x2="1838.3000000000002" y2="641.1" stroke-width="1.7"/>
</g>
<g stroke="#000" stroke-width="1.25" fill="none">
<rect x="1885.3" y="542.8" width="38.0" height="23.4"/>
<line x1="1885.3" y1="554.1" x2="1923.3" y2="554.1"/>
<line x1="1904.3" y1="542.8" x2="1904.3" y2="538.5" stroke-dasharray="18 11.5"/>
<line x1="1904.3" y1="593.7" x2="1904.3" y2="566.2" stroke-dasharray="18 11.5"/>
<line x1="1894.8999999999999" y1="538.5" x2="1913.7" y2="538.5" stroke-width="1.7"/>
<line x1="1894.8999999999999" y1="593.7" x2="1913.7" y2="593.7" stroke-width="1.7"/>
</g>
<g stroke="#e00000" stroke-width="1.5"><line x1="1896.6" y1="627.1" x2="1912.0" y2="627.1"/><line x1="1904.3" y1="619.4" x2="1904.3" y2="634.8000000000001"/></g>
<g stroke="#000" stroke-width="1.25" fill="none">
<rect x="1960.5" y="555.8" width="38.0" height="29.1"/>
<line x1="1960.5" y1="577.4" x2="1998.5" y2="577.4"/>
<line x1="1979.5" y1="555.8" x2="1979.5" y2="550.3" stroke-dasharray="18 11.5"/>
<line x1="1979.5" y1="600.9" x2="1979.5" y2="584.9" stroke-dasharray="18 11.5"/>
<line x1="1970.1" y1="550.3" x2="1988.9" y2="550.3" stroke-width="1.7"/>
<line x1="1970.1" y1="600.9" x2="1988.9" y2="600.9" stroke-width="1.7"/>
</g>
<g stroke="#474747" stroke-width="1.8" fill="none"><path d="M1528.1,67.5 V811.6 H2047.6"/></g>
<line x1="1528.1" y1="811.6" x2="1536.3" y2="811.6" stroke="#474747" stroke-width="1.3"/>
<text stroke="#262626" x="1511.9" y="825.0" font-family="Liberation Sans, Arial, sans-serif" font-weight="bold" stroke-width="0.45" stroke-linejoin="round" font-size="29.4" fill="#262626" text-anchor="end">0</text>
<line x1="1528.1" y1="662.8" x2="1536.3" y2="662.8" stroke="#474747" stroke-width="1.3"/>
<text stroke="#262626" x="1508.9" y="676.2" font-family="Liberation Sans, Arial, sans-serif" font-weight="bold" stroke-width="0.45" stroke-linejoin="round" font-size="29.4" fill="#262626" text-anchor="end">20</text>
<line x1="1528.1" y1="514.0" x2="1536.3" y2="514.0" stroke="#474747" stroke-width="1.3"/>
<text stroke="#262626" x="1508.9" y="527.4" font-family="Liberation Sans, Arial, sans-serif" font-weight="bold" stroke-width="0.45" stroke-linejoin="round" font-size="29.4" fill="#262626" text-anchor="end">40</text>
<line x1="1528.1" y1="365.1" x2="1536.3" y2="365.1" stroke="#474747" stroke-width="1.3"/>
<text stroke="#262626" x="1508.9" y="378.5" font-family="Liberation Sans, Arial, sans-serif" font-weight="bold" stroke-width="0.45" stroke-linejoin="round" font-size="29.4" fill="#262626" text-anchor="end">60</text>
<line x1="1528.1" y1="216.3" x2="1536.3" y2="216.3" stroke="#474747" stroke-width="1.3"/>
<text stroke="#262626" x="1508.9" y="229.7" font-family="Liberation Sans, Arial, sans-serif" font-weight="bold" stroke-width="0.45" stroke-linejoin="round" font-size="29.4" fill="#262626" text-anchor="end">80</text>
<line x1="1528.1" y1="67.5" x2="1536.3" y2="67.5" stroke="#474747" stroke-width="1.3"/>
<text stroke="#262626" x="1506.0" y="80.9" font-family="Liberation Sans, Arial, sans-serif" font-weight="bold" stroke-width="0.45" stroke-linejoin="round" font-size="29.4" fill="#262626" text-anchor="end">100</text>
<text stroke="#262626" transform="translate(1449.4,439.5) rotate(-90)" font-family="Liberation Sans, Arial, sans-serif" font-weight="bold" stroke-width="0.45" stroke-linejoin="round" font-size="29.2" fill="#262626" text-anchor="middle"># voxels with fit quality &gt; 0.5 (%)</text>
<text stroke="#000" x="1834.1" y="22.2" font-family="Liberation Sans, Arial, sans-serif" font-weight="bold" stroke-width="0.45" stroke-linejoin="round" font-size="29.4" fill="#000" text-anchor="middle">Random</text>
<text stroke="#000" x="1576.1" y="839.7" font-family="Liberation Sans, Arial, sans-serif" font-weight="bold" stroke-width="0.45" stroke-linejoin="round" font-size="25.2" fill="#000" text-anchor="middle">SAS</text>
<text stroke="#000" x="1576.1" y="862.5" font-family="Liberation Sans, Arial, sans-serif" font-weight="bold" stroke-width="0.45" stroke-linejoin="round" font-size="25.2" fill="#000" text-anchor="middle">MCA</text>
<text stroke="#000" x="1673.3" y="839.7" font-family="Liberation Sans, Arial, sans-serif" font-weight="bold" stroke-width="0.45" stroke-linejoin="round" font-size="25.2" fill="#000" text-anchor="middle">4<tspan font-size="15.4" dy="-8.8">th</tspan></text>
<text stroke="#000" x="1669.3" y="862.5" font-family="Liberation Sans, Arial, sans-serif" font-weight="bold" stroke-width="0.45" stroke-linejoin="round" font-size="25.2" fill="#000" text-anchor="middle">ventricle</text>
<text stroke="#000" x="1769.9" y="839.7" font-family="Liberation Sans, Arial, sans-serif" font-weight="bold" stroke-width="0.45" stroke-linejoin="round" font-size="25.2" fill="#000" text-anchor="middle">Visual</text>
<text stroke="#000" x="1769.9" y="862.5" font-family="Liberation Sans, Arial, sans-serif" font-weight="bold" stroke-width="0.45" stroke-linejoin="round" font-size="25.2" fill="#000" text-anchor="middle">Cortex</text>
<text stroke="#000" x="1850.1" y="839.7" font-family="Liberation Sans, Arial, sans-serif" font-weight="bold" stroke-width="0.45" stroke-linejoin="round" font-size="25.2" fill="#000" text-anchor="middle">SAS</text>
<text stroke="#000" x="1850.1" y="862.5" font-family="Liberation Sans, Arial, sans-serif" font-weight="bold" stroke-width="0.45" stroke-linejoin="round" font-size="25.2" fill="#000" text-anchor="middle">sulci</text>
<text stroke="#000" x="1913.1" y="839.7" font-family="Liberation Sans, Arial, sans-serif" font-weight="bold" stroke-width="0.45" stroke-linejoin="round" font-size="25.2" fill="#000" text-anchor="middle">PVS</text>
<text stroke="#000" x="1913.1" y="862.5" font-family="Liberation Sans, Arial, sans-serif" font-weight="bold" stroke-width="0.45" stroke-linejoin="round" font-size="25.2" fill="#000" text-anchor="middle">BG</text>
<text stroke="#000" x="2011.6" y="839.7" font-family="Liberation Sans, Arial, sans-serif" font-weight="bold" stroke-width="0.45" stroke-linejoin="round" font-size="25.2" fill="#000" text-anchor="middle">PVS</text>
<text stroke="#000" x="2014.6" y="862.5" font-family="Liberation Sans, Arial, sans-serif" font-weight="bold" stroke-width="0.45" stroke-linejoin="round" font-size="25.2" fill="#000" text-anchor="middle">penetrating</text>
<text stroke="#000" x="2014.6" y="884.8" font-family="Liberation Sans, Arial, sans-serif" font-weight="bold" stroke-width="0.45" stroke-linejoin="round" font-size="25.2" fill="#000" text-anchor="middle">vessels</text>
<g fill="#ff00ff"><path d="M324.2,84.5 C316,77 306.4,70.5 306.4,63 C306.4,57.5 310.5,54.1 315.6,54.1 C319.8,54.1 322.6,55.9 324.2,58.3 C325.8,55.9 328.6,54.1 332.8,54.1 C337.9,54.1 341.6,57.5 341.6,63 C341.6,70.5 332.4,77 324.2,84.5 Z"/></g>
<path d="M338.5,70.6 C350,73 362,80 372,80.3 C378,80.5 380,78 383,72 C385.5,67 387.5,66.5 390,67.5 C393,69 396,71.5 399,69 C402,66 403.5,55 405.6,40.7 L414.4,99.8 L423.7,56.5 L428.3,69.3 L432.1,65.3 L436,73 C437.5,76 440,76 446,71" fill="none" stroke="#f010f0" stroke-width="2.1" stroke-linejoin="round"/>
<g fill="none" stroke="#1fe01f" stroke-width="2.3" stroke-linecap="round" stroke-linejoin="round">
<path d="M1009.82,44.47 C1008.22,44.91 1005.58,46.74 1003.68,48.42 C1001.78,50.10 1000.18,51.78 998.42,54.56 C996.67,57.34 994.91,61.14 993.16,65.09 C991.40,69.04 989.06,74.44 987.89,78.25 C986.73,82.05 985.85,84.75 986.14,87.89 C986.43,91.04 987.60,95.06 989.65,97.11 C991.70,99.15 995.35,100.25 998.42,100.18 C1001.49,100.10 1005.44,98.71 1008.07,96.67 C1010.70,94.62 1012.68,91.33 1014.21,87.89 C1015.75,84.46 1016.70,80.22 1017.28,76.05 C1017.87,71.89 1017.87,67.06 1017.72,62.89 C1017.57,58.73 1017.13,53.90 1016.40,51.05 C1015.67,48.20 1014.43,46.89 1013.33,45.79 C1012.24,44.69 1011.43,44.04 1009.82,44.47 Z"/>
<path d="M1022.98,36.14 C1022.80,37.16 1022.43,40.23 1021.89,42.28 C1021.34,44.33 1020.61,46.74 1019.69,48.42 C1018.78,50.10 1017.90,51.05 1016.40,52.37 C1014.90,53.68 1012.68,54.93 1010.70,56.32 C1008.73,57.70 1006.39,59.24 1004.56,60.70 C1002.73,62.16 1000.94,63.26 999.74,65.09 C998.53,66.92 997.80,69.47 997.32,71.67 C996.85,73.86 997.00,76.86 996.89,78.25 C996.78,79.63 996.70,79.71 996.67,80.00"/>
<path d="M997.11,79.56 C996.67,80.29 995.13,82.56 994.47,83.95 C993.82,85.34 993.34,86.65 993.16,87.89 C992.98,89.14 993.34,90.82 993.38,91.40"/>
<path d="M1004.56,61.58 C1005.29,61.62 1007.49,61.65 1008.95,61.80 C1010.41,61.94 1012.60,62.35 1013.33,62.46" stroke-width="2.3"/>
<path d="M1008.07,62.46 C1007.92,63.33 1007.34,66.84 1007.19,67.72" stroke-width="2.3"/>
<path d="M1010.70,62.68 C1010.56,63.22 1009.97,65.42 1009.82,65.96" stroke-width="2.3"/>
<path d="M997.54,70.79 C998.71,70.75 1002.37,70.50 1004.56,70.57 C1006.75,70.64 1009.68,71.12 1010.70,71.23" stroke-width="2.3"/>
<path d="M1004.56,71.01 C1004.56,71.78 1004.56,74.85 1004.56,75.61" stroke-width="2.3"/>
<path d="M1007.19,71.67 C1007.78,72.25 1010.12,74.59 1010.70,75.18" stroke-width="2.3"/>
<path d="M996.67,78.68 C997.84,78.65 1001.42,78.46 1003.68,78.46 C1005.95,78.46 1009.17,78.65 1010.26,78.68" stroke-width="2.3"/>
<path d="M1004.56,78.68 C1005.29,79.49 1008.22,82.70 1008.95,83.51" stroke-width="2.3"/>
<path d="M1002.81,78.90 C1003.25,79.31 1005.00,80.91 1005.44,81.32" stroke-width="2.3"/>
<path d="M998.86,84.39 C999.66,84.39 1002.88,84.39 1003.68,84.39" stroke-width="2.3"/>
<path d="M998.86,84.82 C999.52,85.70 1002.15,89.21 1002.81,90.09" stroke-width="2.3"/>
<path d="M998.86,87.02 C998.79,87.38 998.49,88.85 998.42,89.21" stroke-width="2.3"/>
<path d="M1036.58,44.47 C1038.18,44.91 1040.82,46.74 1042.72,48.42 C1044.62,50.10 1046.22,51.78 1047.98,54.56 C1049.73,57.34 1051.49,61.14 1053.24,65.09 C1055.00,69.04 1057.34,74.44 1058.51,78.25 C1059.67,82.05 1060.55,84.75 1060.26,87.89 C1059.97,91.04 1058.80,95.06 1056.75,97.11 C1054.70,99.15 1051.05,100.25 1047.98,100.18 C1044.91,100.10 1040.96,98.71 1038.33,96.67 C1035.70,94.62 1033.72,91.33 1032.19,87.89 C1030.65,84.46 1029.70,80.22 1029.12,76.05 C1028.53,71.89 1028.53,67.06 1028.68,62.89 C1028.83,58.73 1029.27,53.90 1030.00,51.05 C1030.73,48.20 1031.97,46.89 1033.07,45.79 C1034.16,44.69 1034.97,44.04 1036.58,44.47 Z"/>
<path d="M1023.42,36.14 C1023.60,37.16 1023.97,40.23 1024.51,42.28 C1025.06,44.33 1025.79,46.74 1026.71,48.42 C1027.62,50.10 1028.50,51.05 1030.00,52.37 C1031.50,53.68 1033.72,54.93 1035.70,56.32 C1037.67,57.70 1040.01,59.24 1041.84,60.70 C1043.67,62.16 1045.46,63.26 1046.66,65.09 C1047.87,66.92 1048.60,69.47 1049.08,71.67 C1049.55,73.86 1049.40,76.86 1049.51,78.25 C1049.62,79.63 1049.70,79.71 1049.73,80.00"/>
<path d="M1049.29,79.56 C1049.73,80.29 1051.27,82.56 1051.93,83.95 C1052.58,85.34 1053.06,86.65 1053.24,87.89 C1053.42,89.14 1053.06,90.82 1053.02,91.40"/>
<path d="M1041.84,61.58 C1041.11,61.62 1038.91,61.65 1037.45,61.80 C1035.99,61.94 1033.80,62.35 1033.07,62.46" stroke-width="2.3"/>
<path d="M1038.33,62.46 C1038.48,63.33 1039.06,66.84 1039.21,67.72" stroke-width="2.3"/>
<path d="M1035.70,62.68 C1035.84,63.22 1036.43,65.42 1036.58,65.96" stroke-width="2.3"/>
<path d="M1048.86,70.79 C1047.69,70.75 1044.03,70.50 1041.84,70.57 C1039.65,70.64 1036.72,71.12 1035.70,71.23" stroke-width="2.3"/>
<path d="M1041.84,71.01 C1041.84,71.78 1041.84,74.85 1041.84,75.61" stroke-width="2.3"/>
<path d="M1039.21,71.67 C1038.62,72.25 1036.28,74.59 1035.70,75.18" stroke-width="2.3"/>
<path d="M1049.73,78.68 C1048.56,78.65 1044.98,78.46 1042.72,78.46 C1040.45,78.46 1037.23,78.65 1036.14,78.68" stroke-width="2.3"/>
<path d="M1041.84,78.68 C1041.11,79.49 1038.18,82.70 1037.45,83.51" stroke-width="2.3"/>
<path d="M1043.59,78.90 C1043.15,79.31 1041.40,80.91 1040.96,81.32" stroke-width="2.3"/>
<path d="M1047.54,84.39 C1046.74,84.39 1043.52,84.39 1042.72,84.39" stroke-width="2.3"/>
<path d="M1047.54,84.82 C1046.88,85.70 1044.25,89.21 1043.59,90.09" stroke-width="2.3"/>
<path d="M1047.54,87.02 C1047.61,87.38 1047.91,88.85 1047.98,89.21" stroke-width="2.3"/>
</g>
<path d="M1071.4,86.6 C1080,78 1090,66 1097,59 C1101,55 1106,54 1110,58 C1118,66 1128,80 1136,86 C1142,90.5 1152,91 1160,87 C1168,83 1173,77 1176.5,66.5" fill="none" stroke="#1fe01f" stroke-width="2.1"/>
<g transform="translate(1808.2,54.0) rotate(-16.2)"><rect x="-17.8" y="-17.8" width="35.6" height="35.6" rx="3.5" fill="#000"/>
<circle cx="-7.2" cy="-10" r="3.2" fill="#fff"/>
<circle cx="-7.2" cy="0" r="3.2" fill="#fff"/>
<circle cx="-7.2" cy="10" r="3.2" fill="#fff"/>
<circle cx="7.2" cy="-10" r="3.2" fill="#fff"/>
<circle cx="7.2" cy="0" r="3.2" fill="#fff"/>
<circle cx="7.2" cy="10" r="3.2" fill="#fff"/>
</g>
<g transform="translate(1849.4,79.3) rotate(33)"><rect x="-17.8" y="-17.8" width="35.6" height="35.6" rx="3.5" fill="#000"/>
<circle cx="-7.2" cy="-10" r="3.2" fill="#fff"/>
<circle cx="-7.2" cy="0" r="3.2" fill="#fff"/>
<circle cx="-7.2" cy="10" r="3.2" fill="#fff"/>
<circle cx="7.2" cy="-10" r="3.2" fill="#fff"/>
<circle cx="7.2" cy="0" r="3.2" fill="#fff"/>
<circle cx="7.2" cy="10" r="3.2" fill="#fff"/>
</g>
<line x1="0" y1="925.7" x2="2053.8" y2="925.7" stroke="#1a1a1a" stroke-width="2.3"/>
<path d="M122.2,1550.1 L231.1,1329.7 L340.0,1192.2 L448.9,1158.3 L557.8,1330.7 L666.7,1464.3" fill="none" stroke="#000" stroke-width="1.4" stroke-dasharray="15.5 6.5 4 6.5"/>
<circle cx="122.2" cy="1550.1" r="8.6" fill="#000"/>
<circle cx="231.1" cy="1329.7" r="8.6" fill="#000"/>
<circle cx="340.0" cy="1192.2" r="8.6" fill="#000"/>
<circle cx="448.9" cy="1158.3" r="8.6" fill="#000"/>
<circle cx="557.8" cy="1330.7" r="8.6" fill="#000"/>
<circle cx="666.7" cy="1464.3" r="8.6" fill="#000"/>
<path d="M122.20,1510.95 L124.96,1508.81 L127.72,1506.54 L130.47,1504.16 L133.23,1501.65 L135.99,1499.04 L138.75,1496.30 L141.50,1493.46 L144.26,1490.51 L147.02,1487.44 L149.77,1484.27 L152.53,1481.00 L155.29,1477.63 L158.05,1474.16 L160.81,1470.59 L163.56,1466.92 L166.32,1463.17 L169.08,1459.32 L171.84,1455.39 L174.59,1451.38 L177.35,1447.29 L180.11,1443.11 L182.87,1438.87 L185.62,1434.55 L188.38,1430.16 L191.14,1425.71 L193.90,1421.19 L196.65,1416.62 L199.41,1411.99 L202.17,1407.30 L204.93,1402.57 L207.68,1397.79 L210.44,1392.97 L213.20,1388.10 L215.95,1383.21 L218.71,1378.28 L221.47,1373.31 L224.23,1368.33 L226.98,1363.32 L229.74,1358.29 L232.50,1353.25 L235.26,1348.20 L238.02,1343.14 L240.77,1338.07 L243.53,1333.00 L246.29,1327.94 L249.04,1322.88 L251.80,1317.83 L254.56,1312.79 L257.32,1307.77 L260.08,1302.78 L262.83,1297.80 L265.59,1292.85 L268.35,1287.94 L271.11,1283.06 L273.86,1278.21 L276.62,1273.41 L279.38,1268.65 L282.13,1263.94 L284.89,1259.28 L287.65,1254.67 L290.41,1250.13 L293.17,1245.64 L295.92,1241.22 L298.68,1236.86 L301.44,1232.58 L304.19,1228.36 L306.95,1224.23 L309.71,1220.17 L312.47,1216.19 L315.23,1212.30 L317.98,1208.50 L320.74,1204.79 L323.50,1201.17 L326.25,1197.64 L329.01,1194.22 L331.77,1190.89 L334.53,1187.67 L337.28,1184.55 L340.04,1181.53 L342.80,1178.63 L345.56,1175.84 L348.31,1173.16 L351.07,1170.60 L353.83,1168.15 L356.59,1165.82 L359.34,1163.61 L362.10,1161.52 L364.86,1159.56 L367.62,1157.72 L370.38,1156.01 L373.13,1154.42 L375.89,1152.96 L378.65,1151.63 L381.40,1150.43 L384.16,1149.36 L386.92,1148.43 L389.68,1147.62 L392.44,1146.95 L395.19,1146.41 L397.95,1146.01 L400.71,1145.74 L403.46,1145.60 L406.22,1145.60 L408.98,1145.74 L411.74,1146.00 L414.49,1146.40 L417.25,1146.94 L420.01,1147.61 L422.77,1148.41 L425.52,1149.34 L428.28,1150.41 L431.04,1151.61 L433.80,1152.93 L436.56,1154.39 L439.31,1155.97 L442.07,1157.68 L444.83,1159.52 L447.58,1161.48 L450.34,1163.57 L453.10,1165.77 L455.86,1168.10 L458.61,1170.54 L461.37,1173.11 L464.13,1175.78 L466.89,1178.57 L469.64,1181.47 L472.40,1184.48 L475.16,1187.60 L477.92,1190.82 L480.68,1194.15 L483.43,1197.57 L486.19,1201.10 L488.95,1204.71 L491.70,1208.42 L494.46,1212.23 L497.22,1216.11 L499.98,1220.09 L502.73,1224.14 L505.49,1228.28 L508.25,1232.49 L511.01,1236.77 L513.76,1241.13 L516.52,1245.55 L519.28,1250.03 L522.04,1254.58 L524.79,1259.18 L527.55,1263.84 L530.31,1268.55 L533.07,1273.31 L535.83,1278.11 L538.58,1282.96 L541.34,1287.84 L544.10,1292.75 L546.86,1297.70 L549.61,1302.67 L552.37,1307.67 L555.13,1312.69 L557.88,1317.73 L560.64,1322.77 L563.40,1327.83 L566.16,1332.90 L568.91,1337.96 L571.67,1343.03 L574.43,1348.09 L577.19,1353.15 L579.94,1358.19 L582.70,1363.22 L585.46,1368.23 L588.22,1373.21 L590.98,1378.17 L593.73,1383.11 L596.49,1388.00 L599.25,1392.87 L602.00,1397.69 L604.76,1402.47 L607.52,1407.21 L610.28,1411.89 L613.03,1416.52 L615.79,1421.10 L618.55,1425.62 L621.31,1430.07 L624.06,1434.46 L626.82,1438.78 L629.58,1443.03 L632.34,1447.20 L635.09,1451.30 L637.85,1455.31 L640.61,1459.24 L643.37,1463.09 L646.12,1466.85 L648.88,1470.51 L651.64,1474.08 L654.40,1477.56 L657.15,1480.93 L659.91,1484.21 L662.67,1487.38 L665.43,1490.44 L668.19,1493.40 L670.94,1496.25 L673.70,1498.98" fill="none" stroke="#f00a3c" stroke-width="5.5"/>
<path d="M122.2,1062.3 V1612.6 H673.7" fill="none" stroke="#2b2b2b" stroke-width="1.4"/>
<line x1="122.2" y1="1062.6" x2="128.8" y2="1062.6" stroke="#2b2b2b" stroke-width="1.3"/>
<text stroke="#262626" x="105.7" y="1075.7" font-family="Liberation Sans, Arial, sans-serif" font-weight="bold" stroke-width="0.45" stroke-linejoin="round" font-size="29.4" fill="#262626" text-anchor="end">15</text>
<line x1="122.2" y1="1154.4" x2="128.8" y2="1154.4" stroke="#2b2b2b" stroke-width="1.3"/>
<text stroke="#262626" x="105.7" y="1167.5" font-family="Liberation Sans, Arial, sans-serif" font-weight="bold" stroke-width="0.45" stroke-linejoin="round" font-size="29.4" fill="#262626" text-anchor="end">10</text>
<line x1="122.2" y1="1246.2" x2="128.8" y2="1246.2" stroke="#2b2b2b" stroke-width="1.3"/>
<text stroke="#262626" x="108.7" y="1259.3" font-family="Liberation Sans, Arial, sans-serif" font-weight="bold" stroke-width="0.45" stroke-linejoin="round" font-size="29.4" fill="#262626" text-anchor="end">5</text>
<line x1="122.2" y1="1338.0" x2="128.8" y2="1338.0" stroke="#2b2b2b" stroke-width="1.3"/>
<text stroke="#262626" x="108.7" y="1351.1" font-family="Liberation Sans, Arial, sans-serif" font-weight="bold" stroke-width="0.45" stroke-linejoin="round" font-size="29.4" fill="#262626" text-anchor="end">0</text>
<line x1="122.2" y1="1429.8" x2="128.8" y2="1429.8" stroke="#2b2b2b" stroke-width="1.3"/>
<text stroke="#262626" x="106.9" y="1442.9" font-family="Liberation Sans, Arial, sans-serif" font-weight="bold" stroke-width="0.45" stroke-linejoin="round" font-size="29.4" fill="#262626" text-anchor="end">-5</text>
<line x1="122.2" y1="1521.6" x2="128.8" y2="1521.6" stroke="#2b2b2b" stroke-width="1.3"/>
<text stroke="#262626" x="104.0" y="1534.7" font-family="Liberation Sans, Arial, sans-serif" font-weight="bold" stroke-width="0.45" stroke-linejoin="round" font-size="29.4" fill="#262626" text-anchor="end">-10</text>
<line x1="122.2" y1="1613.4" x2="128.8" y2="1613.4" stroke="#2b2b2b" stroke-width="1.3"/>
<text stroke="#262626" x="104.0" y="1626.5" font-family="Liberation Sans, Arial, sans-serif" font-weight="bold" stroke-width="0.45" stroke-linejoin="round" font-size="29.4" fill="#262626" text-anchor="end">-15</text>
<line x1="122.2" y1="1612.6" x2="122.2" y2="1606.0" stroke="#2b2b2b" stroke-width="1.3"/>
<text stroke="#262626" x="122.2" y="1655.7" font-family="Liberation Sans, Arial, sans-serif" font-weight="bold" stroke-width="0.45" stroke-linejoin="round" font-size="29.4" fill="#262626" text-anchor="middle">1</text>
<line x1="226.2" y1="1612.6" x2="226.2" y2="1606.0" stroke="#2b2b2b" stroke-width="1.3"/>
<text stroke="#262626" x="226.2" y="1655.7" font-family="Liberation Sans, Arial, sans-serif" font-weight="bold" stroke-width="0.45" stroke-linejoin="round" font-size="29.4" fill="#262626" text-anchor="middle">2</text>
<line x1="330.2" y1="1612.6" x2="330.2" y2="1606.0" stroke="#2b2b2b" stroke-width="1.3"/>
<text stroke="#262626" x="330.2" y="1655.7" font-family="Liberation Sans, Arial, sans-serif" font-weight="bold" stroke-width="0.45" stroke-linejoin="round" font-size="29.4" fill="#262626" text-anchor="middle">3</text>
<line x1="434.2" y1="1612.6" x2="434.2" y2="1606.0" stroke="#2b2b2b" stroke-width="1.3"/>
<text stroke="#262626" x="434.2" y="1655.7" font-family="Liberation Sans, Arial, sans-serif" font-weight="bold" stroke-width="0.45" stroke-linejoin="round" font-size="29.4" fill="#262626" text-anchor="middle">4</text>
<line x1="538.2" y1="1612.6" x2="538.2" y2="1606.0" stroke="#2b2b2b" stroke-width="1.3"/>
<text stroke="#262626" x="538.2" y="1655.7" font-family="Liberation Sans, Arial, sans-serif" font-weight="bold" stroke-width="0.45" stroke-linejoin="round" font-size="29.4" fill="#262626" text-anchor="middle">5</text>
<line x1="642.2" y1="1612.6" x2="642.2" y2="1606.0" stroke="#2b2b2b" stroke-width="1.3"/>
<text stroke="#262626" x="642.2" y="1655.7" font-family="Liberation Sans, Arial, sans-serif" font-weight="bold" stroke-width="0.45" stroke-linejoin="round" font-size="29.4" fill="#262626" text-anchor="middle">6</text>
<text stroke="#262626" x="386.4" y="1709.5" font-family="Liberation Sans, Arial, sans-serif" font-weight="bold" stroke-width="0.45" stroke-linejoin="round" font-size="29.2" fill="#262626" text-anchor="middle">Phases</text>
<text stroke="#262626" transform="translate(53.3,1340.6) rotate(-90)" font-family="Liberation Sans, Arial, sans-serif" font-weight="bold" stroke-width="0.45" stroke-linejoin="round" font-size="29.2" fill="#262626" text-anchor="middle">CSF-mobility change (%)</text>
<text stroke="#000" x="128.0" y="992.2" font-family="Liberation Sans, Arial, sans-serif" stroke-width="0.3" stroke-linejoin="round" font-size="29.05" fill="#000">R<tspan font-size="23" dy="-11.8">2</tspan><tspan dy="11.8"> = 0.97</tspan></text>
<text stroke="#000" x="128.0" y="1026.4" font-family="Liberation Sans, Arial, sans-serif" stroke-width="0.3" stroke-linejoin="round" font-size="29.05" fill="#000">Amplitude fit = 10%</text>
<path d="M799.1,1426.0 L907.9,1613.2 L1016.7,1308.0 L1125.5,1062.6 L1234.3,1097.9 L1343.1,1564.5" fill="none" stroke="#000" stroke-width="1.4" stroke-dasharray="15.5 6.5 4 6.5"/>
<circle cx="799.1" cy="1426.0" r="8.6" fill="#000"/>
<circle cx="907.9" cy="1613.2" r="8.6" fill="#000"/>
<circle cx="1016.7" cy="1308.0" r="8.6" fill="#000"/>
<circle cx="1125.5" cy="1062.6" r="8.6" fill="#000"/>
<circle cx="1234.3" cy="1097.9" r="8.6" fill="#000"/>
<circle cx="1343.1" cy="1564.5" r="8.6" fill="#000"/>
<path d="M799.10,1595.76 L801.85,1597.64 L804.60,1599.34 L807.35,1600.87 L810.10,1602.21 L812.85,1603.38 L815.60,1604.36 L818.35,1605.16 L821.10,1605.79 L823.85,1606.22 L826.61,1606.48 L829.36,1606.55 L832.11,1606.44 L834.86,1606.15 L837.61,1605.67 L840.36,1605.01 L843.11,1604.17 L845.86,1603.15 L848.61,1601.94 L851.36,1600.56 L854.11,1599.00 L856.86,1597.26 L859.61,1595.34 L862.36,1593.25 L865.11,1590.99 L867.86,1588.55 L870.61,1585.94 L873.36,1583.16 L876.11,1580.22 L878.86,1577.11 L881.62,1573.84 L884.37,1570.41 L887.12,1566.83 L889.87,1563.08 L892.62,1559.19 L895.37,1555.14 L898.12,1550.95 L900.87,1546.61 L903.62,1542.13 L906.37,1537.52 L909.12,1532.77 L911.87,1527.88 L914.62,1522.87 L917.37,1517.74 L920.12,1512.48 L922.87,1507.11 L925.62,1501.63 L928.37,1496.03 L931.12,1490.33 L933.87,1484.53 L936.62,1478.63 L939.38,1472.63 L942.13,1466.55 L944.88,1460.38 L947.63,1454.13 L950.38,1447.81 L953.13,1441.41 L955.88,1434.95 L958.63,1428.42 L961.38,1421.84 L964.13,1415.20 L966.88,1408.51 L969.63,1401.78 L972.38,1395.01 L975.13,1388.20 L977.88,1381.36 L980.63,1374.50 L983.38,1367.62 L986.13,1360.72 L988.88,1353.81 L991.63,1346.90 L994.39,1339.98 L997.14,1333.07 L999.89,1326.17 L1002.64,1319.28 L1005.39,1312.41 L1008.14,1305.56 L1010.89,1298.74 L1013.64,1291.95 L1016.39,1285.20 L1019.14,1278.49 L1021.89,1271.83 L1024.64,1265.22 L1027.39,1258.66 L1030.14,1252.17 L1032.89,1245.74 L1035.64,1239.38 L1038.39,1233.10 L1041.14,1226.89 L1043.89,1220.77 L1046.64,1214.74 L1049.40,1208.79 L1052.15,1202.94 L1054.90,1197.19 L1057.65,1191.55 L1060.40,1186.01 L1063.15,1180.59 L1065.90,1175.28 L1068.65,1170.09 L1071.40,1165.02 L1074.15,1160.08 L1076.90,1155.27 L1079.65,1150.59 L1082.40,1146.04 L1085.15,1141.64 L1087.90,1137.38 L1090.65,1133.27 L1093.40,1129.30 L1096.15,1125.49 L1098.90,1121.83 L1101.65,1118.32 L1104.41,1114.98 L1107.16,1111.80 L1109.91,1108.78 L1112.66,1105.92 L1115.41,1103.24 L1118.16,1100.72 L1120.91,1098.37 L1123.66,1096.20 L1126.41,1094.21 L1129.16,1092.38 L1131.91,1090.74 L1134.66,1089.27 L1137.41,1087.99 L1140.16,1086.88 L1142.91,1085.96 L1145.66,1085.21 L1148.41,1084.65 L1151.16,1084.27 L1153.91,1084.08 L1156.66,1084.07 L1159.42,1084.24 L1162.17,1084.59 L1164.92,1085.13 L1167.67,1085.84 L1170.42,1086.74 L1173.17,1087.83 L1175.92,1089.09 L1178.67,1090.53 L1181.42,1092.15 L1184.17,1093.95 L1186.92,1095.92 L1189.67,1098.07 L1192.42,1100.39 L1195.17,1102.88 L1197.92,1105.55 L1200.67,1108.38 L1203.42,1111.37 L1206.17,1114.54 L1208.92,1117.86 L1211.67,1121.34 L1214.43,1124.98 L1217.18,1128.77 L1219.93,1132.72 L1222.68,1136.81 L1225.43,1141.05 L1228.18,1145.44 L1230.93,1149.96 L1233.68,1154.62 L1236.43,1159.41 L1239.18,1164.34 L1241.93,1169.39 L1244.68,1174.56 L1247.43,1179.86 L1250.18,1185.27 L1252.93,1190.79 L1255.68,1196.42 L1258.43,1202.15 L1261.18,1207.99 L1263.93,1213.92 L1266.68,1219.94 L1269.44,1226.05 L1272.19,1232.25 L1274.94,1238.52 L1277.69,1244.87 L1280.44,1251.29 L1283.19,1257.78 L1285.94,1264.32 L1288.69,1270.93 L1291.44,1277.58 L1294.19,1284.28 L1296.94,1291.03 L1299.69,1297.81 L1302.44,1304.63 L1305.19,1311.47 L1307.94,1318.34 L1310.69,1325.23 L1313.44,1332.13 L1316.19,1339.04 L1318.94,1345.96 L1321.70,1352.87 L1324.45,1359.78 L1327.20,1366.68 L1329.95,1373.57 L1332.70,1380.43 L1335.45,1387.27 L1338.20,1394.08 L1340.95,1400.86 L1343.70,1407.60 L1346.45,1414.29 L1349.20,1420.94" fill="none" stroke="#f00a3c" stroke-width="5.5"/>
<path d="M799.1,1062.6 V1612.6 H1349.2" fill="none" stroke="#2b2b2b" stroke-width="1.4"/>
<line x1="799.1" y1="1079.6" x2="805.7" y2="1079.6" stroke="#2b2b2b" stroke-width="1.3"/>
<text stroke="#262626" x="783.9" y="1091.6" font-family="Liberation Sans, Arial, sans-serif" font-weight="bold" stroke-width="0.45" stroke-linejoin="round" font-size="29.4" fill="#262626" text-anchor="end">6</text>
<line x1="799.1" y1="1168.2" x2="805.7" y2="1168.2" stroke="#2b2b2b" stroke-width="1.3"/>
<text stroke="#262626" x="783.9" y="1180.4" font-family="Liberation Sans, Arial, sans-serif" font-weight="bold" stroke-width="0.45" stroke-linejoin="round" font-size="29.4" fill="#262626" text-anchor="end">4</text>
<line x1="799.1" y1="1256.7" x2="805.7" y2="1256.7" stroke="#2b2b2b" stroke-width="1.3"/>
<text stroke="#262626" x="783.9" y="1269.2" font-family="Liberation Sans, Arial, sans-serif" font-weight="bold" stroke-width="0.45" stroke-linejoin="round" font-size="29.4" fill="#262626" text-anchor="end">2</text>
<line x1="799.1" y1="1345.3" x2="805.7" y2="1345.3" stroke="#2b2b2b" stroke-width="1.3"/>
<text stroke="#262626" x="783.9" y="1358.1" font-family="Liberation Sans, Arial, sans-serif" font-weight="bold" stroke-width="0.45" stroke-linejoin="round" font-size="29.4" fill="#262626" text-anchor="end">0</text>
<line x1="799.1" y1="1433.9" x2="805.7" y2="1433.9" stroke="#2b2b2b" stroke-width="1.3"/>
<text stroke="#262626" x="782.1" y="1446.9" font-family="Liberation Sans, Arial, sans-serif" font-weight="bold" stroke-width="0.45" stroke-linejoin="round" font-size="29.4" fill="#262626" text-anchor="end">-2</text>
<line x1="799.1" y1="1522.4" x2="805.7" y2="1522.4" stroke="#2b2b2b" stroke-width="1.3"/>
<text stroke="#262626" x="782.1" y="1535.7" font-family="Liberation Sans, Arial, sans-serif" font-weight="bold" stroke-width="0.45" stroke-linejoin="round" font-size="29.4" fill="#262626" text-anchor="end">-4</text>
<line x1="799.1" y1="1611.0" x2="805.7" y2="1611.0" stroke="#2b2b2b" stroke-width="1.3"/>
<text stroke="#262626" x="782.1" y="1624.5" font-family="Liberation Sans, Arial, sans-serif" font-weight="bold" stroke-width="0.45" stroke-linejoin="round" font-size="29.4" fill="#262626" text-anchor="end">-6</text>
<line x1="799.1" y1="1612.6" x2="799.1" y2="1606.0" stroke="#2b2b2b" stroke-width="1.3"/>
<text stroke="#262626" x="799.1" y="1655.7" font-family="Liberation Sans, Arial, sans-serif" font-weight="bold" stroke-width="0.45" stroke-linejoin="round" font-size="29.4" fill="#262626" text-anchor="middle">1</text>
<line x1="903.0" y1="1612.6" x2="903.0" y2="1606.0" stroke="#2b2b2b" stroke-width="1.3"/>
<text stroke="#262626" x="903.0" y="1655.7" font-family="Liberation Sans, Arial, sans-serif" font-weight="bold" stroke-width="0.45" stroke-linejoin="round" font-size="29.4" fill="#262626" text-anchor="middle">2</text>
<line x1="1006.9" y1="1612.6" x2="1006.9" y2="1606.0" stroke="#2b2b2b" stroke-width="1.3"/>
<text stroke="#262626" x="1006.9" y="1655.7" font-family="Liberation Sans, Arial, sans-serif" font-weight="bold" stroke-width="0.45" stroke-linejoin="round" font-size="29.4" fill="#262626" text-anchor="middle">3</text>
<line x1="1110.8" y1="1612.6" x2="1110.8" y2="1606.0" stroke="#2b2b2b" stroke-width="1.3"/>
<text stroke="#262626" x="1110.8" y="1655.7" font-family="Liberation Sans, Arial, sans-serif" font-weight="bold" stroke-width="0.45" stroke-linejoin="round" font-size="29.4" fill="#262626" text-anchor="middle">4</text>
<line x1="1214.7" y1="1612.6" x2="1214.7" y2="1606.0" stroke="#2b2b2b" stroke-width="1.3"/>
<text stroke="#262626" x="1214.7" y="1655.7" font-family="Liberation Sans, Arial, sans-serif" font-weight="bold" stroke-width="0.45" stroke-linejoin="round" font-size="29.4" fill="#262626" text-anchor="middle">5</text>
<line x1="1318.6" y1="1612.6" x2="1318.6" y2="1606.0" stroke="#2b2b2b" stroke-width="1.3"/>
<text stroke="#262626" x="1318.6" y="1655.7" font-family="Liberation Sans, Arial, sans-serif" font-weight="bold" stroke-width="0.45" stroke-linejoin="round" font-size="29.4" fill="#262626" text-anchor="middle">6</text>
<text stroke="#262626" x="1064.1" y="1709.5" font-family="Liberation Sans, Arial, sans-serif" font-weight="bold" stroke-width="0.45" stroke-linejoin="round" font-size="29.2" fill="#262626" text-anchor="middle">Phases</text>
<text stroke="#262626" transform="translate(741.2,1340.6) rotate(-90)" font-family="Liberation Sans, Arial, sans-serif" font-weight="bold" stroke-width="0.45" stroke-linejoin="round" font-size="29.2" fill="#262626" text-anchor="middle">CSF-mobility change (%)</text>
<text stroke="#000" x="833.6" y="992.2" font-family="Liberation Sans, Arial, sans-serif" stroke-width="0.3" stroke-linejoin="round" font-size="29.05" fill="#000">R<tspan font-size="23" dy="-11.8">2</tspan><tspan dy="11.8"> = 0.76</tspan></text>
<text stroke="#000" x="833.6" y="1026.4" font-family="Liberation Sans, Arial, sans-serif" stroke-width="0.3" stroke-linejoin="round" font-size="29.05" fill="#000">Amplitude fit = 6%</text>
<path d="M1527.6,1354.8 L1635.5,1097.4 L1743.3,1495.7 L1851.2,1227.5 L1959.0,1577.7 L2066.9,1293.1" fill="none" stroke="#000" stroke-width="1.4" stroke-dasharray="15.5 6.5 4 6.5"/>
<circle cx="1527.6" cy="1354.8" r="8.6" fill="#000"/>
<circle cx="1635.5" cy="1097.4" r="8.6" fill="#000"/>
<circle cx="1743.3" cy="1495.7" r="8.6" fill="#000"/>
<circle cx="1851.2" cy="1227.5" r="8.6" fill="#000"/>
<circle cx="1959.0" cy="1577.7" r="8.6" fill="#000"/>
<circle cx="2066.9" cy="1293.1" r="8.6" fill="#000"/>
<path d="M1527.60,1270.96 L1530.33,1268.82 L1533.06,1266.73 L1535.79,1264.69 L1538.52,1262.71 L1541.25,1260.78 L1543.99,1258.91 L1546.72,1257.09 L1549.45,1255.34 L1552.18,1253.64 L1554.91,1252.00 L1557.64,1250.43 L1560.37,1248.92 L1563.10,1247.48 L1565.83,1246.10 L1568.56,1244.79 L1571.30,1243.55 L1574.03,1242.37 L1576.76,1241.27 L1579.49,1240.23 L1582.22,1239.27 L1584.95,1238.37 L1587.68,1237.55 L1590.41,1236.80 L1593.14,1236.13 L1595.88,1235.53 L1598.61,1235.00 L1601.34,1234.55 L1604.07,1234.17 L1606.80,1233.87 L1609.53,1233.64 L1612.26,1233.49 L1614.99,1233.41 L1617.72,1233.41 L1620.45,1233.49 L1623.18,1233.64 L1625.92,1233.86 L1628.65,1234.16 L1631.38,1234.54 L1634.11,1234.99 L1636.84,1235.52 L1639.57,1236.12 L1642.30,1236.79 L1645.03,1237.54 L1647.76,1238.36 L1650.49,1239.25 L1653.23,1240.21 L1655.96,1241.25 L1658.69,1242.35 L1661.42,1243.52 L1664.15,1244.77 L1666.88,1246.08 L1669.61,1247.45 L1672.34,1248.89 L1675.07,1250.40 L1677.81,1251.97 L1680.54,1253.60 L1683.27,1255.30 L1686.00,1257.05 L1688.73,1258.87 L1691.46,1260.74 L1694.19,1262.67 L1696.92,1264.65 L1699.65,1266.69 L1702.38,1268.78 L1705.12,1270.92 L1707.85,1273.11 L1710.58,1275.34 L1713.31,1277.63 L1716.04,1279.95 L1718.77,1282.32 L1721.50,1284.74 L1724.23,1287.19 L1726.96,1289.68 L1729.69,1292.20 L1732.42,1294.76 L1735.16,1297.35 L1737.89,1299.98 L1740.62,1302.63 L1743.35,1305.31 L1746.08,1308.01 L1748.81,1310.74 L1751.54,1313.48 L1754.27,1316.25 L1757.00,1319.04 L1759.74,1321.84 L1762.47,1324.65 L1765.20,1327.48 L1767.93,1330.31 L1770.66,1333.15 L1773.39,1336.00 L1776.12,1338.85 L1778.85,1341.70 L1781.58,1344.56 L1784.31,1347.41 L1787.05,1350.25 L1789.78,1353.09 L1792.51,1355.92 L1795.24,1358.74 L1797.97,1361.55 L1800.70,1364.34 L1803.43,1367.12 L1806.16,1369.87 L1808.89,1372.61 L1811.62,1375.33 L1814.36,1378.02 L1817.09,1380.69 L1819.82,1383.32 L1822.55,1385.93 L1825.28,1388.51 L1828.01,1391.05 L1830.74,1393.56 L1833.47,1396.03 L1836.20,1398.46 L1838.93,1400.85 L1841.67,1403.20 L1844.40,1405.51 L1847.13,1407.77 L1849.86,1409.98 L1852.59,1412.15 L1855.32,1414.26 L1858.05,1416.32 L1860.78,1418.33 L1863.51,1420.29 L1866.24,1422.19 L1868.98,1424.03 L1871.71,1425.82 L1874.44,1427.54 L1877.17,1429.21 L1879.90,1430.81 L1882.63,1432.35 L1885.36,1433.83 L1888.09,1435.24 L1890.82,1436.58 L1893.55,1437.86 L1896.29,1439.06 L1899.02,1440.20 L1901.75,1441.27 L1904.48,1442.27 L1907.21,1443.20 L1909.94,1444.06 L1912.67,1444.84 L1915.40,1445.55 L1918.13,1446.19 L1920.86,1446.75 L1923.60,1447.24 L1926.33,1447.66 L1929.06,1447.99 L1931.79,1448.26 L1934.52,1448.45 L1937.25,1448.56 L1939.98,1448.60 L1942.71,1448.56 L1945.44,1448.45 L1948.17,1448.26 L1950.91,1447.99 L1953.64,1447.65 L1956.37,1447.24 L1959.10,1446.75 L1961.83,1446.18 L1964.56,1445.55 L1967.29,1444.83 L1970.02,1444.05 L1972.75,1443.19 L1975.48,1442.27 L1978.22,1441.27 L1980.95,1440.20 L1983.68,1439.06 L1986.41,1437.85 L1989.14,1436.57 L1991.87,1435.23 L1994.60,1433.81 L1997.33,1432.34 L2000.06,1430.80 L2002.79,1429.20 L2005.53,1427.53 L2008.26,1425.81 L2010.99,1424.02 L2013.72,1422.18 L2016.45,1420.28 L2019.18,1418.32 L2021.91,1416.31 L2024.64,1414.24 L2027.37,1412.13 L2030.10,1409.96 L2032.84,1407.75 L2035.57,1405.49 L2038.30,1403.18 L2041.03,1400.83 L2043.76,1398.44 L2046.49,1396.01 L2049.22,1393.54 L2051.95,1391.03 L2054.68,1388.49 L2057.41,1385.91 L2060.15,1383.30 L2062.88,1380.66 L2065.61,1378.00 L2068.34,1375.31 L2071.07,1372.59 L2073.80,1369.85" fill="none" stroke="#f00a3c" stroke-width="2.7" stroke-dasharray="4.6 4.6"/>
<line x1="1527.6" y1="1341.0" x2="2066.9" y2="1341.0" stroke="#f00a3c" stroke-width="5"/>
<path d="M1527.6,1068.0 V1613.1 H2073.8" fill="none" stroke="#2b2b2b" stroke-width="1.4"/>
<line x1="1527.6" y1="1068.6" x2="1534.1999999999998" y2="1068.6" stroke="#2b2b2b" stroke-width="1.3"/>
<text stroke="#262626" x="1509.1" y="1074.9" font-family="Liberation Sans, Arial, sans-serif" font-weight="bold" stroke-width="0.45" stroke-linejoin="round" font-size="29.4" fill="#262626" text-anchor="end">30</text>
<line x1="1527.6" y1="1159.4" x2="1534.1999999999998" y2="1159.4" stroke="#2b2b2b" stroke-width="1.3"/>
<text stroke="#262626" x="1509.1" y="1166.7" font-family="Liberation Sans, Arial, sans-serif" font-weight="bold" stroke-width="0.45" stroke-linejoin="round" font-size="29.4" fill="#262626" text-anchor="end">20</text>
<line x1="1527.6" y1="1250.2" x2="1534.1999999999998" y2="1250.2" stroke="#2b2b2b" stroke-width="1.3"/>
<text stroke="#262626" x="1509.1" y="1258.6" font-family="Liberation Sans, Arial, sans-serif" font-weight="bold" stroke-width="0.45" stroke-linejoin="round" font-size="29.4" fill="#262626" text-anchor="end">10</text>
<line x1="1527.6" y1="1341.0" x2="1534.1999999999998" y2="1341.0" stroke="#2b2b2b" stroke-width="1.3"/>
<text stroke="#262626" x="1512.1" y="1350.4" font-family="Liberation Sans, Arial, sans-serif" font-weight="bold" stroke-width="0.45" stroke-linejoin="round" font-size="29.4" fill="#262626" text-anchor="end">0</text>
<line x1="1527.6" y1="1431.8" x2="1534.1999999999998" y2="1431.8" stroke="#2b2b2b" stroke-width="1.3"/>
<text stroke="#262626" x="1507.4" y="1442.3" font-family="Liberation Sans, Arial, sans-serif" font-weight="bold" stroke-width="0.45" stroke-linejoin="round" font-size="29.4" fill="#262626" text-anchor="end">-10</text>
<line x1="1527.6" y1="1522.6" x2="1534.1999999999998" y2="1522.6" stroke="#2b2b2b" stroke-width="1.3"/>
<text stroke="#262626" x="1507.4" y="1534.1" font-family="Liberation Sans, Arial, sans-serif" font-weight="bold" stroke-width="0.45" stroke-linejoin="round" font-size="29.4" fill="#262626" text-anchor="end">-20</text>
<line x1="1527.6" y1="1613.4" x2="1534.1999999999998" y2="1613.4" stroke="#2b2b2b" stroke-width="1.3"/>
<text stroke="#262626" x="1507.4" y="1625.9" font-family="Liberation Sans, Arial, sans-serif" font-weight="bold" stroke-width="0.45" stroke-linejoin="round" font-size="29.4" fill="#262626" text-anchor="end">-30</text>
<line x1="1527.6" y1="1613.1" x2="1527.6" y2="1606.5" stroke="#2b2b2b" stroke-width="1.3"/>
<text stroke="#262626" x="1527.6" y="1655.7" font-family="Liberation Sans, Arial, sans-serif" font-weight="bold" stroke-width="0.45" stroke-linejoin="round" font-size="29.4" fill="#262626" text-anchor="middle">1</text>
<line x1="1630.6" y1="1613.1" x2="1630.6" y2="1606.5" stroke="#2b2b2b" stroke-width="1.3"/>
<text stroke="#262626" x="1630.6" y="1655.7" font-family="Liberation Sans, Arial, sans-serif" font-weight="bold" stroke-width="0.45" stroke-linejoin="round" font-size="29.4" fill="#262626" text-anchor="middle">2</text>
<line x1="1733.6" y1="1613.1" x2="1733.6" y2="1606.5" stroke="#2b2b2b" stroke-width="1.3"/>
<text stroke="#262626" x="1733.6" y="1655.7" font-family="Liberation Sans, Arial, sans-serif" font-weight="bold" stroke-width="0.45" stroke-linejoin="round" font-size="29.4" fill="#262626" text-anchor="middle">3</text>
<line x1="1836.6" y1="1613.1" x2="1836.6" y2="1606.5" stroke="#2b2b2b" stroke-width="1.3"/>
<text stroke="#262626" x="1836.6" y="1655.7" font-family="Liberation Sans, Arial, sans-serif" font-weight="bold" stroke-width="0.45" stroke-linejoin="round" font-size="29.4" fill="#262626" text-anchor="middle">4</text>
<line x1="1939.6" y1="1613.1" x2="1939.6" y2="1606.5" stroke="#2b2b2b" stroke-width="1.3"/>
<text stroke="#262626" x="1939.6" y="1655.7" font-family="Liberation Sans, Arial, sans-serif" font-weight="bold" stroke-width="0.45" stroke-linejoin="round" font-size="29.4" fill="#262626" text-anchor="middle">5</text>
<line x1="2042.6" y1="1613.1" x2="2042.6" y2="1606.5" stroke="#2b2b2b" stroke-width="1.3"/>
<text stroke="#262626" x="2042.6" y="1655.7" font-family="Liberation Sans, Arial, sans-serif" font-weight="bold" stroke-width="0.45" stroke-linejoin="round" font-size="29.4" fill="#262626" text-anchor="middle">6</text>
<text stroke="#262626" x="1789.0" y="1709.5" font-family="Liberation Sans, Arial, sans-serif" font-weight="bold" stroke-width="0.45" stroke-linejoin="round" font-size="29.2" fill="#262626" text-anchor="middle">Phases</text>
<text stroke="#262626" transform="translate(1450.9,1340.6) rotate(-90)" font-family="Liberation Sans, Arial, sans-serif" font-weight="bold" stroke-width="0.45" stroke-linejoin="round" font-size="29.2" fill="#262626" text-anchor="middle">CSF-mobility change (%)</text>
<text stroke="#000" x="1564.2" y="992.2" font-family="Liberation Sans, Arial, sans-serif" stroke-width="0.3" stroke-linejoin="round" font-size="29.05" fill="#000">R<tspan font-size="23" dy="-11.8">2</tspan><tspan dy="11.8"> = 0.22</tspan></text>
<text stroke="#000" x="1564.2" y="1026.4" font-family="Liberation Sans, Arial, sans-serif" stroke-width="0.3" stroke-linejoin="round" font-size="29.05" fill="#000">Amplitude fit = 12%</text>
<text stroke="#000" x="1564.2" y="1062.0" font-family="Liberation Sans, Arial, sans-serif" stroke-width="0.3" stroke-linejoin="round" font-size="29.05" fill="#000">Amplitude reported: 0%</text>
</svg>
</body></html>
